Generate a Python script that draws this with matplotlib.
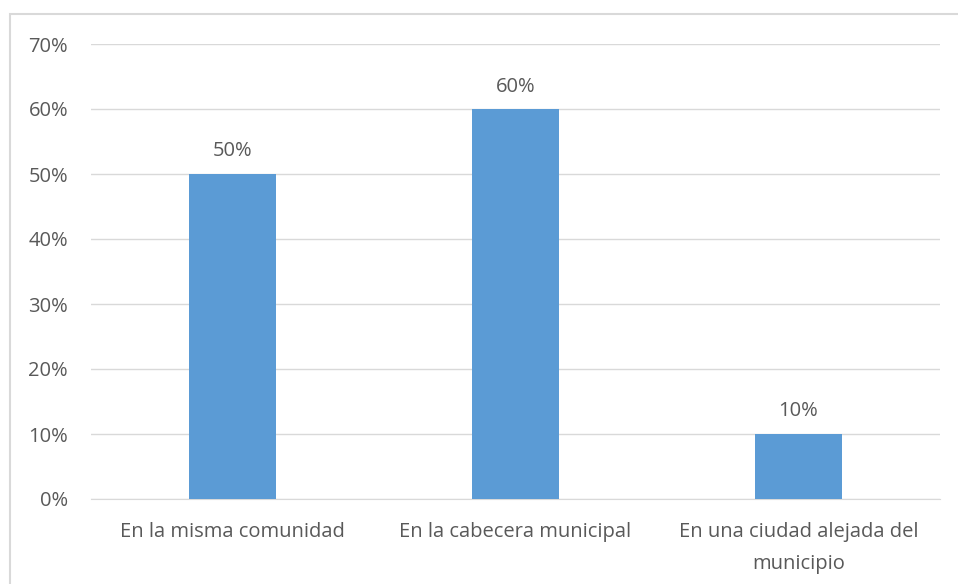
import matplotlib.pyplot as plt
from matplotlib.patches import Rectangle
import numpy as np

plt.rcParams['font.family'] = ['Open Sans', 'DejaVu Sans']

categories = ['En la misma comunidad', 'En la cabecera municipal',
              'En una ciudad alejada del\nmunicipio']
values = [50, 60, 10]
value_labels = ['50%', '60%', '10%']
yticks = [0, 10, 20, 30, 40, 50, 60, 70]

text_color = '#595959'
grid_color = '#d9d9d9'
bar_color = '#5b9bd5'
fs = 14.5

fig = plt.figure(figsize=(9.58, 5.84), dpi=100)
ax = fig.add_axes([91/958, 85/584, 849/958, 455/584])

x = np.arange(len(categories))
bars = ax.bar(x, values, width=0.31, color=bar_color, zorder=3)

for b, lab in zip(bars, value_labels):
    ax.annotate(lab, (b.get_x() + b.get_width()/2, b.get_height()),
                xytext=(0, 9), textcoords='offset points',
                ha='center', va='bottom', fontsize=fs, color=text_color)

ax.set_xlim(-0.5, 2.5)
ax.set_ylim(0, 70)
ax.set_yticks(yticks)
ax.set_yticklabels([f'{t}%' for t in yticks])
ax.set_xticks(x)
ax.set_xticklabels(categories, linespacing=1.8)
ax.yaxis.grid(True, color=grid_color, linewidth=1, zorder=0)
ax.tick_params(axis='both', length=0, colors=text_color, labelsize=fs)
ax.tick_params(axis='y', pad=16.5)
ax.tick_params(axis='x', pad=16.5)
for s in ['top', 'right', 'left']:
    ax.spines[s].set_visible(False)
ax.spines['bottom'].set_color(grid_color)

# chart border
fig.patches.append(Rectangle((10/958, -0.1), 1.0, (584-14)/584 + 0.1,
                             transform=fig.transFigure, fill=False,
                             edgecolor=grid_color, linewidth=1.5))

plt.savefig('out.png', dpi=100)
